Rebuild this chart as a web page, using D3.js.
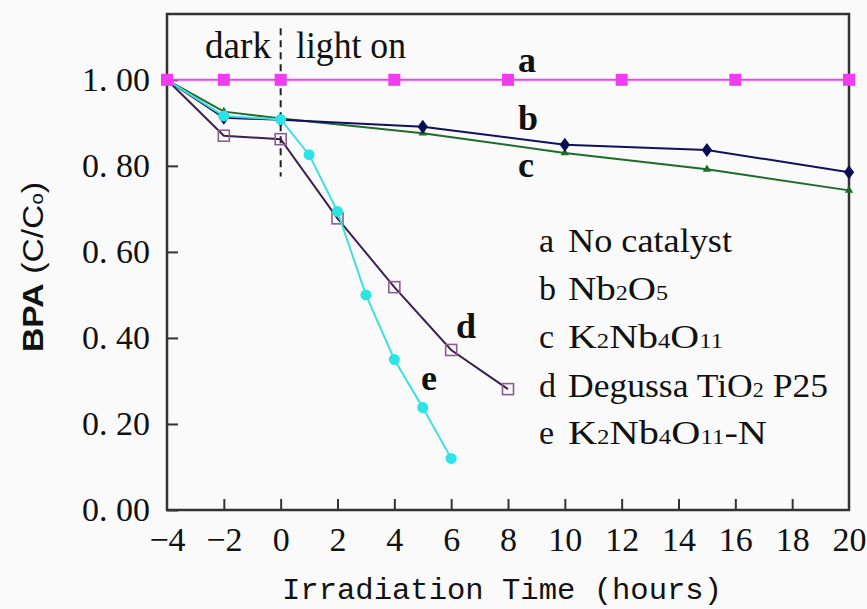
<!DOCTYPE html>
<html>
<head>
<meta charset="utf-8">
<script src="https://d3js.org/d3.v7.min.js"></script>
<style>
  body { margin: 0; background: #fafafa; }
  svg { display: block; }
</style>
</head>
<body>
<div id="chart"></div>
<script>
// Data
const xA = [-4, -2, 0, 4, 8, 12, 16, 20];
const yA = [1.00, 1.00, 1.00, 1.00, 1.00, 1.00, 1.00, 1.00];
const xB = [-4, -2, 0, 5, 10, 15, 20];
const yB = [1.00, 0.912, 0.907, 0.891, 0.849, 0.837, 0.785];
const xC = [-4, -2, 0, 5, 10, 15, 20];
const yC = [1.00, 0.926, 0.910, 0.876, 0.830, 0.792, 0.743];
const xD = [-4, -2, 0, 2, 4, 6, 8];
const yD = [1.00, 0.870, 0.862, 0.678, 0.518, 0.372, 0.281];
const xE = [-4, -2, 0, 1, 2, 3, 4, 5, 6];
const yE = [1.00, 0.916, 0.908, 0.826, 0.694, 0.500, 0.350, 0.238, 0.120];

const xTicks = [-4, -2, 0, 2, 4, 6, 8, 10, 12, 14, 16, 18, 20];
const yTicks = [0, 0.2, 0.4, 0.6, 0.8, 1.0];
const legendKeys = ["a", "b", "c", "d", "e"];
const legendNames = ["No catalyst", "Nb_2O_5", "K_2Nb_4O_11", "Degussa TiO_2 P25", "K_2Nb_4O_11-N"];

// chart size
const W = 867, H = 609;
const plotL = 167, plotR = 849, plotT = 14, plotB = 510;

const svg = d3.select("#chart").append("svg")
  .attr("width", W).attr("height", H);

const x = d3.scaleLinear().domain([-4, 20]).range([plotL, plotR]);
const y = d3.scaleLinear().domain([0, 1.153]).range([plotB, plotT]);

const serif = "'Liberation Serif', 'Times New Roman', serif";

// frame
svg.append("rect")
  .attr("x", plotL).attr("y", plotT)
  .attr("width", plotR - plotL).attr("height", plotB - plotT)
  .attr("fill", "none").attr("stroke", "#333").attr("stroke-width", 2.5);

// axes
const yAxis = d3.axisLeft(y).tickValues(yTicks)
  .tickSizeInner(-11).tickSizeOuter(0).tickPadding(17)
  .tickFormat(d => d3.format(".2f")(d).replace(".", ". "));
const xAxis = d3.axisBottom(x).tickValues(xTicks)
  .tickSizeInner(-11).tickSizeOuter(0).tickPadding(14);

const gy = svg.append("g").attr("transform", `translate(${plotL},0)`).call(yAxis);
const gx = svg.append("g").attr("transform", `translate(0,${plotB})`).call(xAxis);
[gx, gy].forEach(g => {
  g.select(".domain").remove();
  g.selectAll(".tick line").attr("stroke", "#333").attr("stroke-width", 2);
  g.selectAll("text").attr("fill", "#111").style("font-family", serif).style("font-size", "34px");
});
gx.selectAll(".tick text").attr("dy", "0.78em");
gx.selectAll(".tick").filter(d => d === -4 || d === 20).select("line").remove();

// dark / light divider
svg.append("line")
  .attr("x1", x(0)).attr("x2", x(0))
  .attr("y1", y(1.12)).attr("y2", y(0.775))
  .attr("stroke", "#222").attr("stroke-width", 2)
  .attr("stroke-dasharray", "7 5");

svg.append("text").attr("x", 205).attr("y", 58)
  .style("font-family", serif).style("font-size", "38px").attr("fill", "#111")
  .attr("textLength", 66).attr("lengthAdjust", "spacingAndGlyphs")
  .text("dark");
svg.append("text").attr("x", 296).attr("y", 58)
  .style("font-family", serif).style("font-size", "38px").attr("fill", "#111")
  .attr("textLength", 110).attr("lengthAdjust", "spacingAndGlyphs")
  .text("light on");

// series
const series = [
  { key: "c", xs: xC, ys: yC, line: "#1e6b2a", fill: "#1e6b2a", marker: "triangle" },
  { key: "b", xs: xB, ys: yB, line: "#10105e", fill: "#0c0c55", marker: "diamond" },
  { key: "d", xs: xD, ys: yD, line: "#3c1f4c", fill: "none", stroke: "#8c5c94", marker: "opensquare" },
  { key: "e", xs: xE, ys: yE, line: "#3fe0e0", fill: "#2ee3e6", marker: "circle" },
  { key: "a", xs: xA, ys: yA, line: "#f040f0", fill: "#f03cf0", marker: "square" }
];

const line = d3.line().x(d => x(d[0])).y(d => y(d[1]));

series.forEach(s => {
  const pts = s.xs.map((v, i) => [v, s.ys[i]]);
  svg.append("path").datum(pts)
    .attr("d", line).attr("fill", "none")
    .attr("stroke", s.line).attr("stroke-width", 2);

  const g = svg.append("g");
  if (s.marker === "square") {
    g.selectAll("rect").data(pts).enter().append("rect")
      .attr("x", d => x(d[0]) - 6).attr("y", d => y(d[1]) - 6)
      .attr("width", 12).attr("height", 12).attr("fill", s.fill);
  } else if (s.marker === "opensquare") {
    g.selectAll("rect").data(pts.slice(1)).enter().append("rect")
      .attr("x", d => x(d[0]) - 5.5).attr("y", d => y(d[1]) - 5.5)
      .attr("width", 11).attr("height", 11)
      .attr("fill", "none").attr("stroke", s.stroke).attr("stroke-width", 1.6);
  } else if (s.marker === "circle") {
    g.selectAll("circle").data(pts.slice(1)).enter().append("circle")
      .attr("cx", d => x(d[0])).attr("cy", d => y(d[1])).attr("r", 5.5)
      .attr("fill", s.fill);
  } else if (s.marker === "diamond") {
    g.selectAll("path").data(pts.slice(1)).enter().append("path")
      .attr("d", d3.symbol(d3.symbolDiamond, 70))
      .attr("transform", d => `translate(${x(d[0])},${y(d[1])}) scale(1.15,0.9)`)
      .attr("fill", s.fill);
  } else if (s.marker === "triangle") {
    g.selectAll("path").data(pts.slice(1)).enter().append("path")
      .attr("d", d3.symbol(d3.symbolTriangle, 30))
      .attr("transform", d => `translate(${x(d[0])},${y(d[1])})`)
      .attr("fill", s.fill);
  }
});

// curve labels
const curveLabels = [
  { t: "a", px: 518, py: 72 },
  { t: "b", px: 518, py: 130 },
  { t: "c", px: 518, py: 177 },
  { t: "d", px: 456, py: 338 },
  { t: "e", px: 421, py: 390 }
];
svg.selectAll("text.curve").data(curveLabels).enter().append("text")
  .attr("class", "curve")
  .attr("x", d => d.px).attr("y", d => d.py)
  .style("font-family", serif).style("font-size", "36px").style("font-weight", "bold")
  .attr("fill", "#111")
  .text(d => d.t);

// legend
const legendY = [252, 300, 348, 397, 444];
const legendW = [164, 100, 155, 260, 199];
const leg = svg.append("g");
legendKeys.forEach((k, i) => {
  leg.append("text").attr("x", 539).attr("y", legendY[i])
    .style("font-family", serif).style("font-size", "34px").attr("fill", "#111")
    .text(k);
  const t = leg.append("text").attr("x", 568).attr("y", legendY[i])
    .style("font-family", serif).style("font-size", "34px").attr("fill", "#111")
    .attr("textLength", legendW[i]).attr("lengthAdjust", "spacingAndGlyphs");
  legendNames[i].split(/(_\d+)/).filter(p => p.length).forEach(p => {
    if (p[0] === "_") {
      t.append("tspan").attr("font-size", "21px").text(p.slice(1));
    } else {
      t.append("tspan").text(p);
    }
  });
});

// axis titles
svg.append("text")
  .attr("x", 502).attr("y", 599)
  .attr("text-anchor", "middle")
  .style("font-family", "'Liberation Mono', 'Courier New', monospace")
  .style("font-size", "30px").attr("fill", "#111")
  .attr("textLength", 440).attr("lengthAdjust", "spacingAndGlyphs")
  .text("Irradiation Time (hours)");

const yt = svg.append("text")
  .attr("transform", "translate(43,267) rotate(-90)")
  .attr("text-anchor", "middle")
  .style("font-family", "'Liberation Sans', Arial, sans-serif")
  .style("font-size", "30px").attr("fill", "#111")
  .attr("textLength", 170).attr("lengthAdjust", "spacingAndGlyphs");
yt.append("tspan").style("font-weight", "bold").text("BPA");
yt.append("tspan").text("  (C/C");
yt.append("tspan").attr("font-size", "18px").text("o");
yt.append("tspan").text(")");
</script>
</body>
</html>
